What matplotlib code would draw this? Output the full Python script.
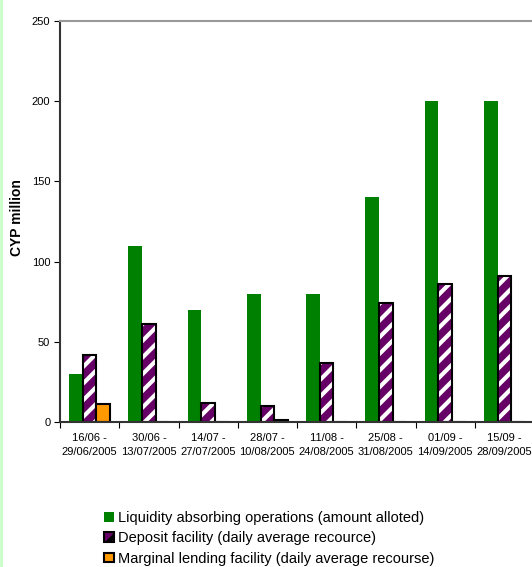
import numpy as np
import matplotlib.pyplot as plt
from matplotlib.patches import Patch, Rectangle

plt.rcParams['font.family'] = ['Liberation Sans', 'DejaVu Sans']
plt.rcParams['hatch.linewidth'] = 3.0

# периоды поддержания резервов
periods = ['16/06 -\n29/06/2005', '30/06 -\n13/07/2005', '14/07 -\n27/07/2005',
           '28/07 -\n10/08/2005', '11/08 -\n24/08/2005', '25/08 -\n31/08/2005',
           '01/09 -\n14/09/2005', '15/09 -\n28/09/2005']
absorbing = [30, 110, 70, 80, 80, 140, 200, 200]
deposit = [42, 61, 12, 10, 37, 74, 86, 91]
marginal = [11, 0, 0, 1, 0, 0, 0, 0]

green = '#008000'
purple = '#660066'
orange = '#FF9900'

fig = plt.figure(figsize=(5.32, 5.67), dpi=100)
ax = fig.add_axes([60 / 532, 145 / 567, 474 / 532, 401 / 567])

# светло-зелёная полоса по левому краю
fig.patches.append(Rectangle((0, 0), 3 / 532, 1, transform=fig.transFigure,
                             facecolor='#ccffcc', edgecolor='none'))

x = np.arange(len(periods))
w = 0.23

ax.bar(x - w, absorbing, w, color=green, linewidth=0)
# штриховка отдельно, рамка отдельно
ax.bar(x, deposit, w, color=purple, edgecolor='white', hatch='//', linewidth=0)
ax.bar(x, deposit, w, fill=False, edgecolor='black', linewidth=1.5)
ax.bar(x + w, marginal, w, color=orange, edgecolor='black', linewidth=1.5)

ax.set_xlim(-0.5, len(periods) - 0.5)
ax.set_ylim(0, 250)
ax.set_yticks([0, 50, 100, 150, 200, 250])
ax.set_xticks(x)
ax.set_xticklabels(periods, fontsize=8, linespacing=1.45)
ax.set_xticks(np.arange(len(periods) + 1) - 0.5, minor=True)
ax.tick_params(axis='x', which='major', length=0, pad=8)
ax.tick_params(axis='x', which='minor', length=4, width=0.8, direction='out')
ax.tick_params(axis='y', length=4, width=0.8, labelsize=8, pad=3)

for side in ['top', 'right']:
    ax.spines[side].set_color('#999999')
    ax.spines[side].set_linewidth(1.5)
ax.spines['left'].set_color('#333333')
ax.spines['bottom'].set_color('#333333')
ax.spines['left'].set_linewidth(1.5)
ax.spines['bottom'].set_linewidth(1.5)

ax.set_ylabel('CYP million', fontsize=10, fontweight='bold', va='center')
ax.yaxis.set_label_coords(-43 / 474, 0.51)

handles = [
    Patch(facecolor=green, edgecolor='none', label='Liquidity absorbing operations (amount alloted)'),
    Patch(facecolor=purple, edgecolor='black', hatch='//', linewidth=1.5,
          label='Deposit facility (daily average recource)'),
    Patch(facecolor=orange, edgecolor='black', linewidth=1.5,
          label='Marginal lending facility (daily average recourse)'),
]
fig.legend(handles=handles, loc='upper left', bbox_to_anchor=(97 / 532, 1 - 504 / 567),
           frameon=False, fontsize=10.5, handlelength=0.65, handleheight=0.65,
           handletextpad=0.3, labelspacing=0.42, borderpad=0)

fig.savefig('out.png', dpi=100)
